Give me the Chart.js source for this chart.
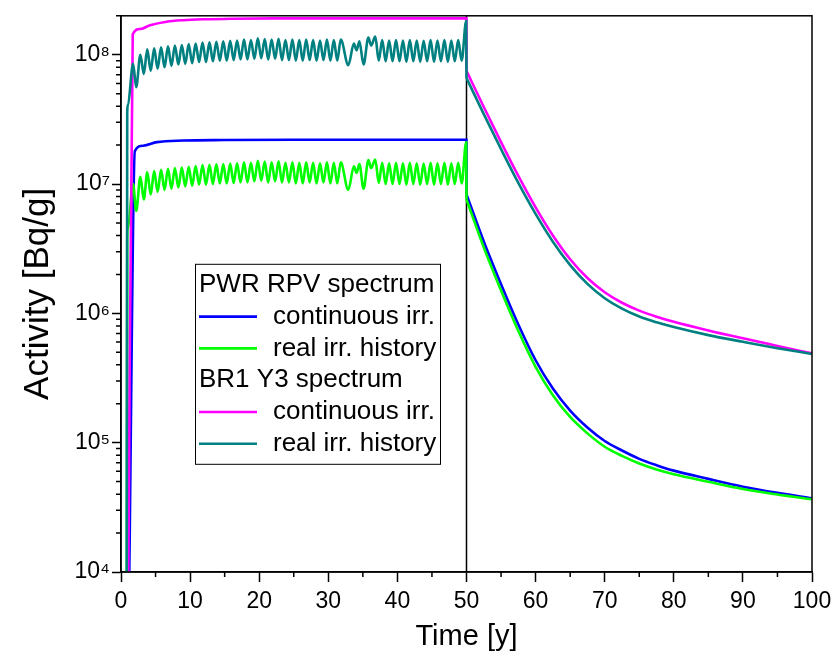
<!DOCTYPE html>
<html>
<head>
<meta charset="utf-8">
<title>Activity vs time</title>
<script src="https://cdn.jsdelivr.net/npm/chart.js@4.4.1/dist/chart.umd.min.js"></script>
<style>
    html, body { margin: 0; padding: 0; background: #ffffff; }
    canvas { display: block; }
</style>
</head>
<body>
<canvas id="activity-chart" width="833" height="658"></canvas>
<script>
// Time grid for the cycled (real history) irradiation, peaks and troughs of each cycle [y]
const realIrrTime = [
    0.82, 0.9, 1.0, 1.75,
    2.2, 2.8,
    3.3, 3.8,
    4.3, 4.8,
    5.3, 5.8,
    6.3, 6.8,
    7.3, 7.8,
    8.3, 8.8,
    9.3, 9.8,
    10.3, 10.8,
    11.3, 11.8,
    12.3, 12.8,
    13.3, 13.8,
    14.3, 14.8,
    15.3, 15.8,
    16.3, 16.8,
    17.3, 17.8,
    18.3, 18.8,
    19.3, 19.8,
    20.3, 20.8,
    21.3, 21.8,
    22.3, 22.8,
    23.3, 23.8,
    24.3, 24.8,
    25.3, 25.8,
    26.3, 26.8,
    27.3, 27.8,
    28.3, 28.8,
    29.3, 29.8,
    30.3, 30.8,
    31.3, 31.8,
    32.9,
    33.7, 34.1, 34.5,
    35.1, 35.8, 36.2, 36.8,
    37.3, 37.8,
    38.3, 38.8,
    39.3, 39.8,
    40.3, 40.8,
    41.3, 41.8,
    42.3, 42.8,
    43.3, 43.8,
    44.3, 44.8,
    45.3, 45.8,
    46.3, 46.8,
    47.3, 47.8,
    48.3, 48.8,
    49.3, 49.95
];

// PWR RPV spectrum, real irradiation history [Bq/g]
const pwrRealIrr = [
    1e3, 4.0e6, 4.6e6, 1.0e7,
    6.2e6, 1.14e7,
    7.6e6, 1.23e7,
    8.3e6, 1.26e7,
    8.7e6, 1.29e7,
    9.0e6, 1.31e7,
    9.2e6, 1.33e7,
    9.4e6, 1.34e7,
    9.6e6, 1.36e7,
    9.7e6, 1.38e7,
    9.9e6, 1.40e7,
    9.9e6, 1.41e7,
    1.00e7, 1.42e7,
    1.01e7, 1.43e7,
    1.01e7, 1.44e7,
    1.02e7, 1.45e7,
    1.03e7, 1.47e7,
    1.03e7, 1.46e7,
    1.05e7, 1.51e7,
    1.06e7, 1.49e7,
    1.03e7, 1.47e7,
    1.05e7, 1.50e7,
    1.03e7, 1.46e7,
    1.03e7, 1.47e7,
    1.01e7, 1.46e7,
    1.01e7, 1.47e7,
    1.03e7, 1.46e7,
    1.01e7, 1.45e7,
    1.03e7, 1.47e7,
    1.01e7, 1.46e7,
    1.01e7, 1.47e7,
    9.0e6,
    1.37e7, 1.22e7, 1.43e7,
    9.2e6, 1.53e7, 1.33e7, 1.55e7,
    1.02e7, 1.46e7,
    1.00e7, 1.45e7,
    1.00e7, 1.46e7,
    1.00e7, 1.45e7,
    9.9e6, 1.46e7,
    1.00e7, 1.45e7,
    9.9e6, 1.44e7,
    1.00e7, 1.46e7,
    9.9e6, 1.45e7,
    1.00e7, 1.46e7,
    9.9e6, 1.45e7,
    1.00e7, 1.46e7,
    1.01e7, 2.1e7
];

// BR1 Y3 spectrum, real irradiation history [Bq/g]
const br1RealIrr = [
    1e3, 3.6e7, 4.1e7, 8.5e7,
    5.6e7, 1.00e8,
    7.1e7, 1.10e8,
    7.5e7, 1.12e8,
    7.8e7, 1.14e8,
    8.0e7, 1.16e8,
    8.2e7, 1.18e8,
    8.4e7, 1.19e8,
    8.5e7, 1.21e8,
    8.6e7, 1.22e8,
    8.8e7, 1.24e8,
    8.8e7, 1.25e8,
    8.9e7, 1.26e8,
    9.0e7, 1.27e8,
    9.0e7, 1.28e8,
    9.1e7, 1.29e8,
    9.2e7, 1.31e8,
    9.2e7, 1.30e8,
    9.3e7, 1.34e8,
    9.4e7, 1.32e8,
    9.2e7, 1.31e8,
    9.3e7, 1.33e8,
    9.1e7, 1.30e8,
    9.1e7, 1.31e8,
    9.0e7, 1.30e8,
    9.0e7, 1.31e8,
    9.1e7, 1.30e8,
    9.0e7, 1.29e8,
    9.1e7, 1.31e8,
    9.0e7, 1.30e8,
    9.0e7, 1.31e8,
    8.3e7,
    1.22e8, 1.08e8, 1.27e8,
    8.4e7, 1.36e8, 1.18e8, 1.38e8,
    9.0e7, 1.30e8,
    8.9e7, 1.29e8,
    8.9e7, 1.30e8,
    8.9e7, 1.29e8,
    8.8e7, 1.30e8,
    8.9e7, 1.29e8,
    8.8e7, 1.28e8,
    8.9e7, 1.30e8,
    8.8e7, 1.29e8,
    8.9e7, 1.30e8,
    8.8e7, 1.29e8,
    8.9e7, 1.30e8,
    9.0e7, 1.82e8
];

// Continuous irradiation build-up
const pwrContTime = [1.2, 2.0, 3.2, 5.2, 9, 15, 25, 49.98];
const pwrContIrr  = [1e4, 1.8e7, 1.98e7, 2.11e7, 2.17e7, 2.19e7, 2.2e7, 2.2e7];
const br1ContTime = [1.06, 1.7, 2.75, 4.2, 6.6, 9, 12, 16, 22, 30, 40, 49.98];
const br1ContIrr  = [1e4, 1.44e8, 1.58e8, 1.69e8, 1.8e8, 1.85e8, 1.88e8, 1.9e8, 1.91e8, 1.91e8, 1.91e8, 1.91e8];

// Decay after shutdown at 50 y
const decayTime     = [50, 52.5, 55, 57.5, 60, 62.5, 65, 67.5, 70, 72.5, 75, 77.5, 80, 85, 90, 95, 100];
const pwrContDecay  = [8.3e6, 3.6e6, 1.68e6, 8.2e5, 4.34e5, 2.62e5, 1.77e5, 1.31e5, 1.03e5, 8.7e4, 7.5e4, 6.7e4, 6.08e4, 5.25e4, 4.57e4, 4.09e4, 3.72e4];
const pwrRealDecay  = [7.6e6, 3.24e6, 1.5e6, 7.3e5, 3.86e5, 2.33e5, 1.58e5, 1.18e5, 9.3e4, 7.9e4, 6.9e4, 6.2e4, 5.7e4, 4.99e4, 4.39e4, 3.97e4, 3.65e4];
const br1ContDecay  = [7.5e7, 3.94e7, 2.11e7, 1.155e7, 6.6e6, 4.0e6, 2.62e6, 1.875e6, 1.456e6, 1.208e6, 1.05e6, 9.43e5, 8.61e5, 7.38e5, 6.41e5, 5.6e5, 4.9e5];
const br1RealDecay  = [6.6e7, 3.47e7, 1.86e7, 1.02e7, 5.87e6, 3.58e6, 2.36e6, 1.69e6, 1.31e6, 1.087e6, 9.45e5, 8.53e5, 7.84e5, 6.79e5, 6.03e5, 5.38e5, 4.85e5];

// Axis ticks
const xTickStep = 10;
const xMinorStep = 5;
const yTickValues = [1e4, 1e5, 1e6, 1e7, 1e8];
const yTickLabels = ['10\u2074', '10\u2075', '10\u2076', '10\u2077', '10\u2078'];
const shutdownTime = 50;

const FONT = '"Liberation Sans", Arial, Helvetica, sans-serif';

function toPoints(times, values) {
    return times.map((t, i) => ({ x: t, y: values[i] }));
}

// Legend rows: group headers have no line sample
const legendRows = [
    { text: 'PWR RPV spectrum' },
    { text: 'continuous irr.', color: '#0000ff' },
    { text: 'real irr. history', color: '#00ff00' },
    { text: 'BR1 Y3 spectrum' },
    { text: 'continuous irr.', color: '#ff00ff' },
    { text: 'real irr. history', color: '#008080' }
];

// Frame, minor ticks, shutdown line and the grouped legend
const decorations = {
    id: 'decorations',
    beforeDatasetsDraw(chart) {
        const { ctx, chartArea, scales } = chart;
        const x50 = scales.x.getPixelForValue(shutdownTime);
        ctx.save();
        ctx.strokeStyle = '#000';
        ctx.lineWidth = 1.5;
        ctx.beginPath();
        ctx.moveTo(x50, chartArea.top);
        ctx.lineTo(x50, chartArea.bottom);
        ctx.stroke();
        ctx.restore();
    },
    afterDraw(chart) {
        const { ctx, chartArea, scales } = chart;
        const { left, right, top, bottom } = chartArea;
        ctx.save();
        ctx.strokeStyle = '#000';
        ctx.lineWidth = 1.5;
        ctx.strokeRect(left, top, right - left, bottom - top);

        // minor ticks on x
        ctx.beginPath();
        for (let v = xMinorStep; v < scales.x.max; v += xTickStep) {
            const px = scales.x.getPixelForValue(v);
            ctx.moveTo(px, bottom);
            ctx.lineTo(px, bottom + 5);
        }
        // minor ticks on the log axis
        yTickValues.forEach(decade => {
            for (let k = 2; k <= 9; k++) {
                const v = decade * k;
                if (v > scales.y.max) break;
                const py = scales.y.getPixelForValue(v);
                ctx.moveTo(left - 5, py);
                ctx.lineTo(left, py);
            }
        });
        ctx.stroke();

        // legend box
        const boxX = left + 74;
        const boxY = top + 248;
        const boxW = 245;
        const boxH = 200;
        const rowH = 31.8;
        ctx.fillStyle = '#fff';
        ctx.fillRect(boxX, boxY, boxW, boxH);
        ctx.lineWidth = 1;
        ctx.strokeStyle = '#000';
        ctx.strokeRect(boxX + 0.5, boxY + 0.5, boxW, boxH);

        ctx.font = '26px ' + FONT;
        ctx.textBaseline = 'middle';
        ctx.textAlign = 'left';
        legendRows.forEach((row, i) => {
            const cy = boxY + 21 + i * rowH;
            ctx.fillStyle = '#000';
            if (row.color) {
                ctx.strokeStyle = row.color;
                ctx.lineWidth = 2.6;
                ctx.beginPath();
                ctx.moveTo(boxX + 4, cy);
                ctx.lineTo(boxX + 62, cy);
                ctx.stroke();
                ctx.fillText(row.text, boxX + 78, cy);
            } else {
                ctx.fillText(row.text, boxX + 4, cy);
            }
        });
        ctx.restore();
    }
};

const tickFont = { family: FONT, size: 23 };

// Each curve is split into build-up and decay so the drop at shutdown stays sharp
const series = [
    { label: 'PWR RPV spectrum, continuous irr.', color: '#0000ff', order: 3,
      irr: toPoints(pwrContTime, pwrContIrr), decay: toPoints(decayTime, pwrContDecay) },
    { label: 'PWR RPV spectrum, real irr. history', color: '#00ff00', order: 2,
      irr: toPoints(realIrrTime, pwrRealIrr), decay: toPoints(decayTime, pwrRealDecay) },
    { label: 'BR1 Y3 spectrum, continuous irr.', color: '#ff00ff', order: 1,
      irr: toPoints(br1ContTime, br1ContIrr), decay: toPoints(decayTime, br1ContDecay) },
    { label: 'BR1 Y3 spectrum, real irr. history', color: '#008080', order: 0,
      irr: toPoints(realIrrTime, br1RealIrr), decay: toPoints(decayTime, br1RealDecay) }
];

const datasets = [];
series.forEach(s => {
    datasets.push({
        label: s.label,
        data: s.irr.concat([s.decay[0]]),
        borderColor: s.color,
        order: s.order
    });
    datasets.push({
        label: s.label + ' (decay)',
        data: s.decay,
        borderColor: s.color,
        order: s.order
    });
});

const chart = new Chart(document.getElementById('activity-chart'), {
    type: 'line',
    data: { datasets },
    options: {
        responsive: false,
        animation: false,
        devicePixelRatio: 1,
        layout: { padding: { top: 14, right: 21, left: 0, bottom: 0 } },
        elements: {
            point: { radius: 0 },
            line: { borderWidth: 2.6, cubicInterpolationMode: 'monotone', fill: false }
        },
        plugins: {
            legend: { display: false },
            tooltip: { enabled: false }
        },
        scales: {
            x: {
                type: 'linear',
                min: 0,
                max: 100,
                afterFit: scale => {
                    scale.height = 86;
                    scale.paddingLeft = 0;
                    scale.paddingRight = 0;
                },
                ticks: {
                    stepSize: xTickStep,
                    autoSkip: false,
                    maxRotation: 0,
                    padding: 6,
                    color: '#000',
                    font: tickFont
                },
                grid: { drawOnChartArea: false, tickLength: 10, tickColor: '#000', tickWidth: 1.5 },
                border: { color: '#000', width: 1.5 },
                title: { display: true, text: 'Time [y]', color: '#000', font: { family: FONT, size: 29 }, padding: { top: 2, bottom: 4 } }
            },
            y: {
                type: 'logarithmic',
                min: 1e4,
                max: 2e8,
                afterFit: scale => { scale.width = 121; },
                afterBuildTicks: scale => {
                    scale.ticks = yTickValues.map(v => ({ value: v, major: true }));
                },
                ticks: {
                    callback: (value, index) => yTickLabels[index],
                    padding: 2,
                    color: '#000',
                    font: tickFont
                },
                grid: { drawOnChartArea: false, tickLength: 9, tickColor: '#000', tickWidth: 1.5 },
                border: { color: '#000', width: 1.5 },
                title: { display: true, text: 'Activity [Bq/g]', color: '#000', font: { family: FONT, size: 35 }, padding: { top: 17, bottom: 4 } }
            }
        }
    },
    plugins: [decorations]
});
</script>
</body>
</html>
